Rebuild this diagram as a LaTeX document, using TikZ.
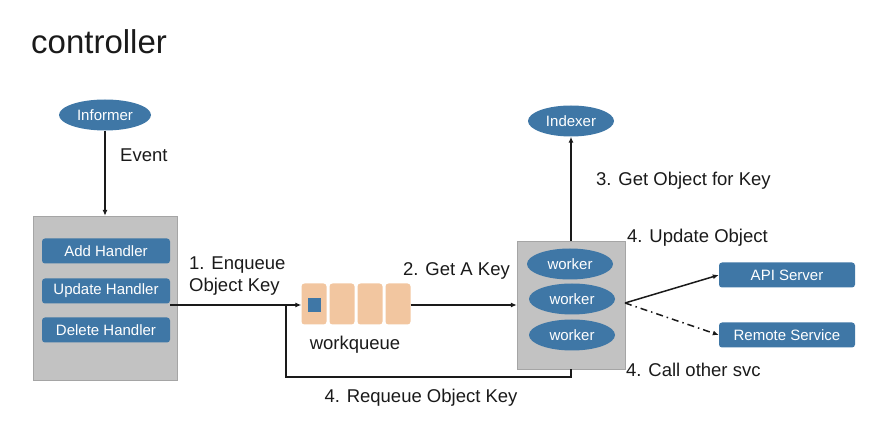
\documentclass[tikz,border=0pt]{standalone}
\usepackage{fontspec}
\setmainfont{Liberation Sans}
\usetikzlibrary{arrows.meta,shapes.geometric}
\definecolor{nodeblue}{HTML}{3F77A6}
\definecolor{panelgray}{HTML}{C2C2C2}
\definecolor{cellorange}{HTML}{F2C6A0}
\definecolor{ink}{HTML}{1A1A1A}
\tikzset{
  every node/.style={font=\fontsize{18.5}{22}\selectfont, inner sep=0pt, text=ink},
  blueoval/.style={ellipse, fill=nodeblue, text=white, minimum width=#1, minimum height=31pt, font=\fontsize{15}{17}\selectfont},
  bluebox/.style={rectangle, rounded corners=3pt, fill=nodeblue, text=white, minimum width=#1, minimum height=25pt, font=\fontsize{15}{17}\selectfont},
  panel/.style={rectangle, fill=panelgray, draw=panelgray!85!black, line width=0.4pt},
  cell/.style={rectangle, rounded corners=3pt, fill=cellorange, minimum width=25pt, minimum height=41pt},
  lbl/.style={anchor=west, align=left},
  conn/.style={line width=1.5pt, draw=ink, -{Latex[length=6pt,width=5pt]}},
  plain/.style={line width=1.5pt, draw=ink},
}
\begin{document}
\begin{tikzpicture}[x=1pt,y=-1pt]
\useasboundingbox (0,0) rectangle (870,427);

% title
\node[anchor=base west, font=\fontsize{33}{38}\selectfont] (title) at (31,54) {controller};

% informer and event handlers
\node[blueoval=92pt] (informer) at (105,115) {Informer};
\node[panel, minimum width=144pt, minimum height=164pt] (handlers) at (105,298) {};
\node[bluebox=128pt] (add) at (106,251) {Add Handler};
\node[bluebox=128pt] (update) at (106,291) {Update Handler};
\node[bluebox=128pt] (delete) at (106,330) {Delete Handler};
\draw[conn] (informer.south) -- (handlers.north);
\node[lbl] (event) at (120,155) {Event};

% workqueue cells
\node[cell] (c1) at (314,304) {};
\node[cell] (c2) at (342,304) {};
\node[cell] (c3) at (370,304) {};
\node[cell] (c4) at (398,304) {};
\node[rectangle, fill=nodeblue, minimum width=13pt, minimum height=14pt] (item) at (314,305) {};
\node (wqlabel) at (355,345) {workqueue};

% enqueue
\coordinate (join) at (286,305);
\draw[conn] (update.east |- join) -- (c1.west |- join);
\node[lbl] (enq) at (189,276) {1. Enqueue\\Object Key};

% workers
\node[panel, minimum width=108pt, minimum height=128pt] (workers) at (571,305) {};
\node[blueoval=86pt] (w1) at (570,264) {worker};
\node[blueoval=86pt] (w2) at (572,299) {worker};
\node[blueoval=86pt] (w3) at (572,335) {worker};
\draw[conn] (c4.east |- join) -- (workers.west |- join);
\node[lbl] (getkey) at (403,271) {2. Get A Key};

% indexer
\node[blueoval=86pt] (indexer) at (571,121) {Indexer};
\draw[conn] (workers.north) -- (indexer.south);
\node[lbl] (getobj) at (596,181) {3. Get Object for Key};

% requeue path
\coordinate (rq) at (571,377);
\draw[plain] (workers.south) -- (rq) -- (join |- rq) -- (join);
\node (requeue) at (421,398) {4. Requeue Object Key};

% external services
\node[bluebox=136pt] (api) at (787,275) {API Server};
\node[bluebox=136pt] (remote) at (787,335) {Remote Service};
\coordinate (out) at (625,303);
\draw[conn] (out) -- (api.west);
\draw[conn, dash pattern=on 7pt off 4pt on 1.5pt off 4pt] (out) -- (remote.west);
\node[lbl] (updobj) at (627,238) {4. Update Object};
\node[lbl] (callsvc) at (626,370) {4. Call other svc};
\end{tikzpicture}
\end{document}
